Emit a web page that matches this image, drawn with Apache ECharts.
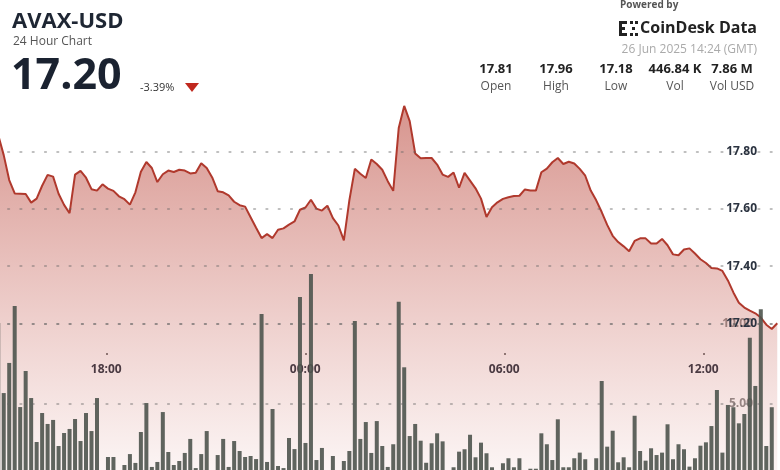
<!DOCTYPE html>
<html><head><meta charset="utf-8">
<script src="https://cdn.jsdelivr.net/npm/echarts@6/dist/echarts.min.js"></script>
<style>html,body{margin:0;padding:0;background:#fff}#c{width:780px;height:470px}</style>
</head><body><div id="c"></div>
<script>
// ---- data ----
const price = [
17.858,17.788,17.701,17.654,17.653,17.652,17.622,17.636,17.681,17.719,
17.713,17.653,17.614,17.585,17.720,17.733,17.709,17.669,17.664,17.686,
17.671,17.663,17.644,17.634,17.615,17.658,17.730,17.764,17.743,17.694,
17.721,17.734,17.729,17.737,17.734,17.724,17.726,17.760,17.743,17.710,
17.662,17.658,17.647,17.625,17.613,17.608,17.571,17.534,17.498,17.512,
17.498,17.527,17.532,17.545,17.556,17.597,17.605,17.632,17.601,17.594,
17.611,17.568,17.542,17.490,17.630,17.740,17.723,17.708,17.773,17.757,
17.737,17.697,17.663,17.883,17.960,17.907,17.794,17.777,17.778,17.778,
17.755,17.720,17.712,17.727,17.674,17.726,17.699,17.672,17.636,17.572,
17.606,17.623,17.635,17.641,17.645,17.646,17.668,17.664,17.664,17.728,
17.741,17.763,17.778,17.757,17.765,17.759,17.740,17.716,17.664,17.630,
17.589,17.544,17.506,17.484,17.469,17.452,17.488,17.497,17.497,17.479,
17.479,17.495,17.473,17.441,17.438,17.458,17.462,17.444,17.424,17.411,
17.393,17.392,17.383,17.350,17.308,17.272,17.255,17.244,17.235,17.220,
17.195,17.180,17.200];
const volume = [
10.03,5.68,7.55,11.09,4.81,7.05,5.37,2.64,4.44,3.76,
4.01,2.39,3.20,3.45,4.07,2.70,4.44,3.32,5.37,0.5,
1.71,1.71,0.5,1.21,1.89,1.34,3.26,5.06,1.09,1.40,
4.50,2.02,1.21,1.46,1.96,2.83,1.02,1.89,3.32,0.5,
1.83,2.83,1.09,2.70,2.08,1.71,1.77,1.58,10.59,1.40,
4.69,1.15,1.02,2.89,2.20,11.65,2.58,13.07,1.52,2.27,
0.5,1.77,0.5,1.46,2.08,10.16,2.83,3.88,1.96,3.94,
2.39,1.09,2.50,11.35,7.28,3.01,3.76,2.72,1.35,2.56,
3.18,2.68,0.5,1.07,2.04,2.19,3.09,1.69,2.60,1.94,
1.07,0.5,1.32,1.63,1.07,1.63,0.5,0.98,0.98,3.18,
2.50,1.52,4.05,1.07,1.07,1.63,1.98,1.57,0.5,1.63,
6.43,2.35,3.34,1.38,1.69,1.07,4.27,2.08,1.48,2.25,
1.83,1.98,3.74,1.57,2.50,2.19,1.11,1.63,2.41,2.62,
3.63,5.87,1.98,4.94,4.80,3.80,4.38,9.12,6.12,10.88,
2.39,4.80,null];
const priceTicks = [17.2, 17.4, 17.6, 17.8];
const volTicks = [5, 10];
const timeTicks = [18, 24, 30, 36];           // hours (24 = 00:00 next day)
const header = {symbol:'AVAX-USD', sub:'24 Hour Chart', last:'17.20', change:'-3.39%',
  date:'26 Jun 2025 14:24 (GMT)'};
const statValues = ['17.81','17.96','17.18','446.84 K','7.86 M'];
const statLabels = ['Open','High','Low','Vol','Vol USD'];

// ---- chart ----
const FONT = '"Open Sans", "Noto Sans", sans-serif';
const chart = echarts.init(document.getElementById('c'), null, {renderer:'canvas'});
const cats = price.map((_, i) => i);
const near = (arr, v) => arr.some(t => Math.abs(t - v) < 1e-6);
const dotted = {color:'rgba(100,100,100,0.55)', width:1.6, type:[1.6,10.7], cap:'round'};
const statX = [496, 556, 616, 675, 732];

const graphic = [
  {type:'text', z:100, style:{text:header.symbol, x:12, y:22, fill:'#1e2633', fontFamily:FONT, fontWeight:'bold', fontSize:22, verticalAlign:'middle'}},
  {type:'text', z:100, style:{text:header.sub, x:13, y:42, fill:'#555', fontFamily:FONT, fontSize:12, verticalAlign:'middle'}},
  {type:'text', z:100, style:{text:header.last, x:11, y:77, fill:'#1a2230', fontFamily:FONT, fontWeight:'bold', fontSize:43, verticalAlign:'middle'}},
  {type:'text', z:100, style:{text:header.change, x:140, y:87.5, fill:'#333', fontFamily:FONT, fontSize:11, verticalAlign:'middle'}},
  {type:'polygon', z:100, shape:{points:[[185,83],[199,83],[192,92]]}, style:{fill:'#c0281e'}},
  {type:'text', z:100, style:{text:'Powered by', x:620, y:5, fill:'#555', fontFamily:FONT, fontWeight:'bold', fontSize:10, verticalAlign:'middle'}},
  {type:'text', z:100, style:{text:'CoinDesk Data', x:757, y:28, fill:'#222', fontFamily:FONT, fontWeight:'bold', fontSize:16, align:'right', verticalAlign:'middle'}},
  {type:'rect', z:100, shape:{x:619,y:21,width:3,height:15}, style:{fill:'#222'}},
  {type:'rect', z:100, shape:{x:619,y:21,width:8,height:3}, style:{fill:'#222'}},
  {type:'rect', z:100, shape:{x:619,y:33,width:8,height:3}, style:{fill:'#222'}},
  {type:'rect', z:100, shape:{x:619,y:27,width:6,height:3}, style:{fill:'#222'}},
  {type:'rect', z:100, shape:{x:630,y:21,width:3,height:3}, style:{fill:'#222'}},
  {type:'rect', z:100, shape:{x:635,y:21,width:3,height:3}, style:{fill:'#222'}},
  {type:'rect', z:100, shape:{x:630,y:33,width:3,height:3}, style:{fill:'#222'}},
  {type:'rect', z:100, shape:{x:635,y:33,width:3,height:3}, style:{fill:'#222'}},
  {type:'rect', z:100, shape:{x:632,y:27,width:3,height:3}, style:{fill:'#222'}},
  {type:'text', z:100, style:{text:header.date, x:757, y:50, fill:'#aaa', fontFamily:FONT, fontSize:12, align:'right', verticalAlign:'middle'}}
];
statValues.forEach((s, i) => {
  graphic.push({type:'text', z:100, style:{text:s, x:statX[i], y:69.5, fill:'#222', fontFamily:FONT, fontWeight:'bold', fontSize:13, align:'center', verticalAlign:'middle'}});
  graphic.push({type:'text', z:100, style:{text:statLabels[i], x:statX[i], y:86.5, fill:'#555', fontFamily:FONT, fontSize:12, align:'center', verticalAlign:'middle'}});
});

chart.setOption({
  animation:false,
  backgroundColor:'#ffffff',
  grid:[
    {left:-4.5, right:0, top:94.5, bottom:-24.9, outerBoundsMode:'none'},
    {left:-4.5, right:0, top:267.15, bottom:-14.5, outerBoundsMode:'none'},
    {left:-92.7, right:-122.3, top:0, bottom:117, outerBoundsMode:'none'}
  ],
  xAxis:[
    {type:'category', gridIndex:0, data:cats, boundaryGap:true, show:false},
    {type:'category', gridIndex:1, data:cats, boundaryGap:true, show:false},
    {type:'value', gridIndex:2, min:12, max:42, interval:6,
     axisLine:{show:false}, splitLine:{show:false},
     axisTick:{show:true, length:2, lineStyle:{color:'#555', width:1.5}},
     axisLabel:{margin:11, color:'#2b3340', fontWeight:'bold', fontSize:12, fontFamily:FONT,
       formatter:v => near(timeTicks, v) ? String(v % 24).padStart(2,'0') + ':00' : ''}}
  ],
  yAxis:[
    {type:'value', gridIndex:0, min:16.6, max:18.0, interval:0.2, position:'right', z:5,
     axisLine:{show:false}, axisTick:{show:false}, splitLine:{show:false},
     axisLabel:{inside:true, margin:23, color:'#2b3340', fontWeight:'bold', fontSize:12, fontFamily:FONT,
       formatter:v => near(priceTicks, v) ? v.toFixed(2) : ''}},
    {type:'value', gridIndex:1, min:0, max:13.5, interval:5, position:'right',
     axisLine:{show:false}, axisTick:{show:false}, splitLine:{show:false},
     axisLabel:{inside:true, margin:27, color:'#8e8e8e', fontWeight:'bold', fontSize:12, fontFamily:FONT,
       formatter:v => near(volTicks, v) ? v.toFixed(2) : ''}},
    {type:'value', gridIndex:2, show:false}
  ],
  series:[
    {type:'line', xAxisIndex:0, yAxisIndex:0, data:price, showSymbol:false, z:2,
     lineStyle:{color:'#b0392d', width:2},
     areaStyle:{origin:'start', color:new echarts.graphic.LinearGradient(0,0,0,1,[
       {offset:0, color:'rgba(185,70,58,0.82)'},
       {offset:1, color:'rgba(200,90,80,0.04)'}])},
     markLine:{silent:true, symbol:['none','none'], label:{show:false}, lineStyle:dotted,
       data:priceTicks.map(t => ({yAxis:t}))}},
    {type:'bar', xAxisIndex:1, yAxisIndex:1, data:volume, barWidth:4, z:3,
     itemStyle:{color:'rgba(78,84,78,0.9)'},
     markLine:{silent:true, symbol:['none','none'], label:{show:false}, lineStyle:dotted,
       data:volTicks.map(t => ({yAxis:t}))}}
  ],
  graphic:graphic
});
</script></body></html>
